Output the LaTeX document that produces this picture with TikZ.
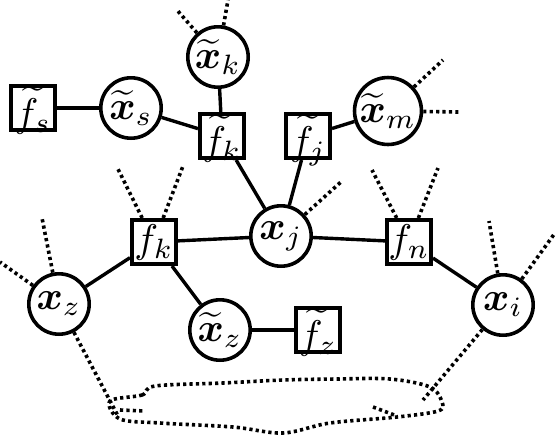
\documentclass[tikz,border=0pt]{standalone}
\usepackage{amsmath}
\usepackage{amssymb}
\usepackage{tikz}

\begin{document}
\begin{tikzpicture}[x=0.25pt, y=-0.25pt, node distance=24.5pt,
    var/.style={circle, draw, line width=0.9pt, minimum size=15.1pt, inner sep=0pt},
    fac/.style={rectangle, draw, line width=1.1pt, minimum size=10.9pt, inner sep=0pt},
    tfac/.style={fac, text height=9pt, text depth=0pt},
    stub/.style={line width=0.9pt, dash pattern=on 0.8pt off 0.8pt},
    link/.style={line width=0.85pt}]
      \useasboundingbox (0,0) rectangle (558,441);

      % variables and factors
      \node[var] (xk) at (218,57) {$\widetilde{\boldsymbol{x}}_k$};
      \node[var] (xs) at (131,108) {$\widetilde{\boldsymbol{x}}_s$};
      \node[tfac] (fst) [left of=xs] {$\widetilde{f}_s$};
      \node[tfac] (fkt) at (222,136) {$\widetilde{f}_k$};
      \node[tfac] (fjt) at (308,136) {$\widetilde{f}_j$};
      \node[var] (xm) at (388,111) {$\widetilde{\boldsymbol{x}}_m$};
      \node[var] (xj) at (281,236) {$\boldsymbol{x}_j$};
      \node[fac] (fk) at (154,242) {$f_k$};
      \node[fac] (fn) at (409,242) {$f_n$};
      \node[var] (xz) at (59,304) {$\boldsymbol{x}_z$};
      \node[var] (xzt) at (220,330) {$\widetilde{\boldsymbol{x}}_z$};
      \node[tfac] (fzt) [right of=xzt] {$\widetilde{f}_z$};
      \node[var] (xi) at (503,305) {$\boldsymbol{x}_i$};

      \draw[link] (fst) -- (xs);
      \draw[link] (xs) -- (fkt);
      \draw[link] (xk) -- (fkt);
      \draw[link] (fkt) -- (xj);
      \draw[link] (fjt) -- (xj);
      \draw[link] (fjt) -- (xm);
      \draw[link] (fk) -- (xj);
      \draw[link] (xj) -- (fn);
      \draw[link] (fn) -- (xi);
      \draw[link] (fk) -- (xz);
      \draw[link] (fk) -- (xzt);
      \draw[link] (xzt) -- (fzt);

      % loose ends
      \coordinate (xk1) at (177,10);
      \coordinate (xk2) at (228,0);
      \coordinate (xm1) at (443,60);
      \coordinate (xm2) at (460,112);
      \coordinate (xj1) at (342,181);
      \coordinate (fk1) at (117,167);
      \coordinate (fk2) at (183,166);
      \coordinate (fn1) at (372,170);
      \coordinate (fn2) at (438,168);
      \coordinate (xz1) at (0,262);
      \coordinate (xz2) at (42,218);
      \coordinate (xi1) at (489,221);
      \coordinate (xi2) at (555,233);
      \coordinate (cl) at (118,416);
      \coordinate (cr) at (423,400);

      \foreach \a/\b in {xk/xk1, xk/xk2, xm/xm1, xm/xm2, xj/xj1, fk/fk1, fk/fk2,
                         fn/fn1, fn/fn2, xz/xz1, xz/xz2, xi/xi1, xi/xi2, xz/cl, xi/cr}
        \draw[stub] (\a) -- (\b);

      % the rest of the graph
      \draw[stub] plot[smooth cycle, tension=0.55] coordinates {(110,401) (142,395) (155,386)
        (223,383) (283,380) (337,379) (390,379) (430,387) (442,402) (438,411) (397,417)
        (330,423) (283,433) (233,427) (160,423) (120,419)};
      \draw[stub] (120,410) -- (145,411);
      \draw[stub] (373,407) -- (397,416);
\end{tikzpicture}
\end{document}
